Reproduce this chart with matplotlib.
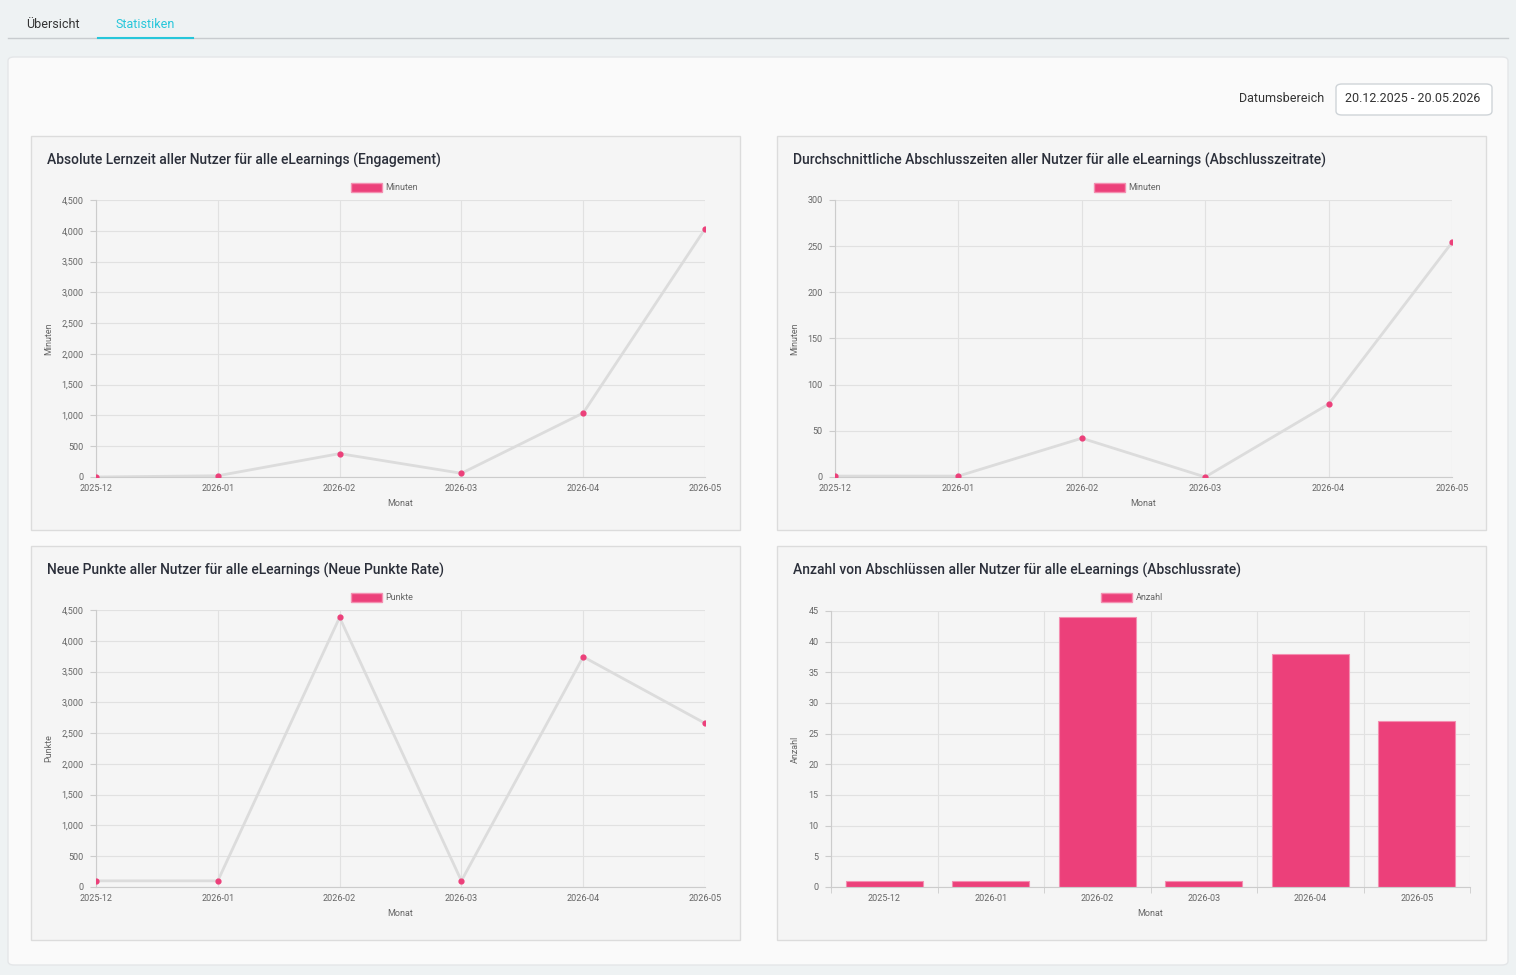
import matplotlib
matplotlib.use("Agg")
import matplotlib.pyplot as plt
from matplotlib.patches import Rectangle, FancyBboxPatch
from matplotlib.ticker import FuncFormatter, MultipleLocator

plt.rcParams['font.family'] = ['Roboto', 'DejaVu Sans']

months = ['2025-12', '2026-01', '2026-02', '2026-03', '2026-04', '2026-05']
lernzeit = [0, 20, 380, 60, 1040, 4030]
abschlusszeit = [1, 1, 42, 0, 79, 254]
punkte = [100, 100, 4380, 100, 3740, 2660]
abschluesse = [1, 1, 44, 1, 38, 27]

W, H = 1516, 975
PINK = '#ec407a'
fig = plt.figure(figsize=(W / 100, H / 100), dpi=100)
fig.patch.set_facecolor('#eef2f3')


def box(x0, y0, x1, y1):
    return [x0 / W, 1 - y1 / H, (x1 - x0) / W, (y1 - y0) / H]


def rect(x0, y0, x1, y1, fc, ec='none', lw=1, rounded=False, z=0.5):
    if rounded:
        p = FancyBboxPatch((x0 / W, 1 - y1 / H), (x1 - x0) / W, (y1 - y0) / H,
                           boxstyle='round,pad=0,rounding_size=0.004',
                           transform=fig.transFigure, fc=fc, ec=ec, lw=lw, zorder=z)
    else:
        p = Rectangle((x0 / W, 1 - y1 / H), (x1 - x0) / W, (y1 - y0) / H,
                      transform=fig.transFigure, fc=fc, ec=ec, lw=lw, zorder=z)
    fig.patches.append(p)


def txt(x, y, s, **kw):
    fig.text(x / W, 1 - y / H, s, **kw)


# tabs
txt(53, 24, 'Übersicht', fontsize=9, color='#333333', ha='center', va='center')
txt(145, 24, 'Statistiken', fontsize=9, color='#26c6da', ha='center', va='center')
fig.add_artist(plt.Line2D([8 / W, 1508 / W], [1 - 38 / H] * 2, color='#c8cccf', lw=1))
fig.add_artist(plt.Line2D([98 / W, 193 / W], [1 - 38 / H] * 2, color='#26c6da', lw=1.5))

# card
rect(8, 57, 1508, 965, '#fafafa', ec='#e4e6e8', rounded=True, z=0.2)
txt(1324, 99, 'Datumsbereich', fontsize=9, color='#333333', ha='right', va='center')
rect(1336, 84, 1492, 115, 'white', ec='#cfd4d8', rounded=True)
txt(1345, 99, '20.12.2025 - 20.05.2026', fontsize=9, color='#333333', ha='left', va='center')

thousands = FuncFormatter(lambda v, p: f'{int(v):,}')


def panel(px, py, title, plot_box, values, ylab, legend, ymax, step, kind='line', fmt=None):
    rect(px, py, px + 709, py + 394, '#f5f5f5', ec='#dcdcdc')
    txt(px + 16, py + 24, title, fontsize=10, fontweight='medium', color='#2b2f3a',
        ha='left', va='center')
    ax = fig.add_axes(box(*plot_box))
    ax.set_zorder(3)
    ax.set_facecolor('#f5f5f5')
    x = range(len(months))
    if kind == 'line':
        ax.plot(x, values, color='#dcdcdc', lw=2, zorder=2)
        ax.scatter(x, values, color=PINK, s=12, zorder=3)
        ax.set_xlim(0, len(months) - 1)
        ax.set_xticks(list(x))
        ax.grid(True, axis='both', color='#e1e1e1', lw=0.8)
    else:
        ax.bar(x, values, width=0.72, color=PINK, edgecolor='#f48fb1', lw=0.8, zorder=2)
        ax.set_xlim(-0.5, len(months) - 0.5)
        ax.set_xticks(list(x))
        ax.set_xticks([i - 0.5 for i in range(len(months) + 1)], minor=True)
        ax.grid(True, axis='y', color='#e1e1e1', lw=0.8)
        ax.grid(True, axis='x', which='minor', color='#e1e1e1', lw=0.8)
        ax.tick_params(axis='x', which='minor', length=4, color='#cccccc')
    ax.set_axisbelow(True)
    ax.set_xticklabels(months)
    ax.set_ylim(0, ymax)
    ax.yaxis.set_major_locator(MultipleLocator(step))
    if fmt:
        ax.yaxis.set_major_formatter(fmt)
    for s in ['top', 'right']:
        ax.spines[s].set_visible(False)
    for s in ['left', 'bottom']:
        ax.spines[s].set_color('#cccccc')
    ax.tick_params(labelsize=6.5, colors='#666666', length=0, pad=5)
    ax.tick_params(axis='y', length=4, color='#cccccc')
    ax.set_ylabel(ylab, fontsize=6.5, color='#666666', labelpad=6)
    ax.set_xlabel('Monat', fontsize=6.5, color='#666666', labelpad=4)
    # legend
    cx = (plot_box[0] + plot_box[2]) / 2
    rect(cx - 50, py + 47, cx - 19, py + 56, PINK, ec='#f48fb1')
    txt(cx - 15, py + 51, legend, fontsize=6.5, color='#666666', ha='left', va='center')
    return ax


panel(31, 136, 'Absolute Lernzeit aller Nutzer für alle eLearnings (Engagement)',
      (96, 200, 705, 477), lernzeit, 'Minuten', 'Minuten', 4500, 500, fmt=thousands)
panel(777, 136, 'Durchschnittliche Abschlusszeiten aller Nutzer für alle eLearnings (Abschlusszeitrate)',
      (835, 200, 1452, 477), abschlusszeit, 'Minuten', 'Minuten', 300, 50)
panel(31, 546, 'Neue Punkte aller Nutzer für alle eLearnings (Neue Punkte Rate)',
      (96, 610, 705, 887), punkte, 'Punkte', 'Punkte', 4500, 500, fmt=thousands)
panel(777, 546, 'Anzahl von Abschlüssen aller Nutzer für alle eLearnings (Abschlussrate)',
      (831, 611, 1470, 887), abschluesse, 'Anzahl', 'Anzahl', 45, 5, kind='bar')

fig.savefig('out.png', dpi=100, facecolor=fig.get_facecolor())
